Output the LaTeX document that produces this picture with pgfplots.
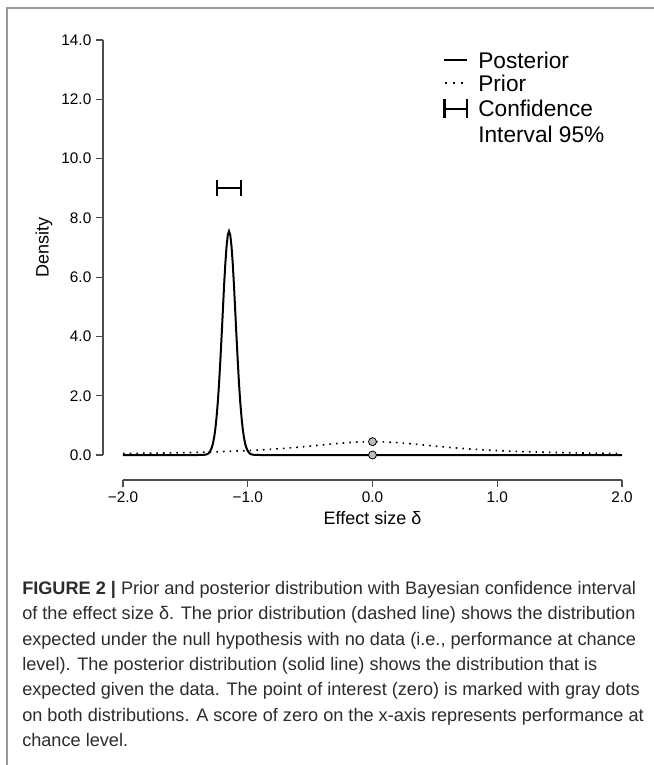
\documentclass[border=0pt]{standalone}
\usepackage{fontspec}
\setmainfont{Liberation Sans}
\usepackage{pgfplots}
\pgfplotsset{compat=1.18}
\definecolor{axgray}{HTML}{4D4D4D}
\definecolor{dotgray}{HTML}{BDBDBD}
\definecolor{framegray}{HTML}{9A9A9A}
\definecolor{captext}{HTML}{2B2B2B}
\begin{document}
\begin{tikzpicture}
\path[use as bounding box] (0,0) rectangle (490.5pt,-573.75pt);
\draw[framegray, line width=1.3pt] (490.5pt,-6pt) -- (5.25pt,-6pt) -- (5.25pt,-573.75pt);
\begin{axis}[
  at={(92.25pt,-341.25pt)}, anchor=south west,
  scale only axis, width=374.25pt, height=311.25pt,
  xmin=-2, xmax=2, ymin=0, ymax=14,
  axis x line=bottom, axis y line=left,
  axis line style={-, axgray, line width=0.8pt},
  axis x line shift=18.75pt, axis y line shift=15pt,
  xtick={-2,-1,0,1,2}, xticklabels={−2.0,−1.0,0.0,1.0,2.0},
  ytick={0,2,4,6,8,10,12,14}, yticklabels={0.0,2.0,4.0,6.0,8.0,10.0,12.0,14.0},
  tick align=outside, major tick length=5.25pt,
  tick style={axgray, line width=0.8pt},
  ticklabel style={font=\fontsize{11.5}{13}\selectfont},
  xlabel={Effect size δ}, ylabel={Density},
  label style={font=\fontsize{13.5}{16}\selectfont},
  clip=false,
  legend cell align=left,
  legend style={at={(axis cs:0.565,13.62)}, anchor=north west, draw=none, fill=none,
    font=\fontsize{17}{19}\selectfont, row sep=5pt, column sep=7.5pt, inner sep=0pt,
    nodes={inner sep=0pt, text height=12.5pt, text depth=0pt}},
]
\addplot[black, line width=1.5pt,
  legend image code/.code={\draw[black, line width=1.8pt] (0pt,0pt) -- (17pt,0pt);}]
  coordinates {(-2,0) (-1.40,0) (-1.35,0.006) (-1.33,0.02) (-1.32,0.04) (-1.31,0.08)
  (-1.30,0.14) (-1.29,0.23) (-1.28,0.37) (-1.27,0.58) (-1.26,0.87) (-1.25,1.28)
  (-1.24,1.78) (-1.23,2.41) (-1.22,3.16) (-1.21,3.98) (-1.20,4.83) (-1.19,5.69)
  (-1.18,6.44) (-1.17,7.03) (-1.16,7.42) (-1.15,7.55) (-1.14,7.42) (-1.13,7.03)
  (-1.12,6.44) (-1.11,5.69) (-1.10,4.83) (-1.09,3.98) (-1.08,3.16) (-1.07,2.41)
  (-1.06,1.78) (-1.05,1.28) (-1.04,0.87) (-1.03,0.58) (-1.02,0.37) (-1.01,0.23)
  (-1.00,0.14) (-0.99,0.08) (-0.98,0.04) (-0.97,0.02) (-0.95,0.006) (-0.90,0) (2,0)};
\addlegendentry{Posterior}
\addplot[black, line width=1.2pt, dash pattern=on 1.2pt off 3.8pt, smooth,
  legend image code/.code={\draw[black, line width=1.3pt, dash pattern=on 1.3pt off 4.6pt] (0.6pt,0pt) -- (17pt,0pt);}]
  coordinates {(-2,0.0500) (-1.8,0.0602) (-1.6,0.0736) (-1.4,0.0915) (-1.2,0.1160)
  (-1.0,0.1501) (-0.9,0.1718) (-0.8,0.1975) (-0.7,0.2274) (-0.6,0.2617) (-0.5,0.3001)
  (-0.4,0.3411) (-0.3,0.3815) (-0.2,0.4169) (-0.1,0.4414) (0,0.4502) (0.1,0.4414)
  (0.2,0.4169) (0.3,0.3815) (0.4,0.3411) (0.5,0.3001) (0.6,0.2617) (0.7,0.2274)
  (0.8,0.1975) (0.9,0.1718) (1.0,0.1501) (1.2,0.1160) (1.4,0.0915) (1.6,0.0736)
  (1.8,0.0602) (2,0.0500)};
\addlegendentry{Prior}
\addplot[black, line width=1.2pt, mark=none,
  legend image code/.code={\draw[black, line width=1.6pt] (0pt,-7pt) -- (0pt,7pt) (0pt,0pt) -- (17pt,0pt) (17pt,-7pt) -- (17pt,7pt);},
  error bars/.cd, x dir=both, x explicit, error mark=|,
  error bar style={black, line width=1.2pt},
  error mark options={black, line width=1.2pt, mark size=6pt},
  ] coordinates {(-1.15,9.0) +- (0.097,0)};
\addlegendentry{Confidence}
\addlegendimage{empty legend}
\addlegendentry{Interval 95\%}
\addplot[only marks, mark=*, mark size=3pt, mark options={fill=dotgray, draw=black, line width=0.6pt}, forget plot]
  coordinates {(0,0.4502) (0,0)};
\end{axis}
\node[anchor=north west, align=left, inner sep=0pt, text=captext,
  font=\fontsize{13.6}{19}\selectfont] at (16.5pt,-435.75pt)
  {\textbf{FIGURE 2 |} Prior and posterior distribution with Bayesian confidence interval\\
   of the effect size δ. The prior distribution (dashed line) shows the distribution\\
   expected under the null hypothesis with no data (i.e., performance at chance\\
   level). The posterior distribution (solid line) shows the distribution that is\\
   expected given the data. The point of interest (zero) is marked with gray dots\\
   on both distributions. A score of zero on the x-axis represents performance at\\
   chance level.};
\end{tikzpicture}
\end{document}
